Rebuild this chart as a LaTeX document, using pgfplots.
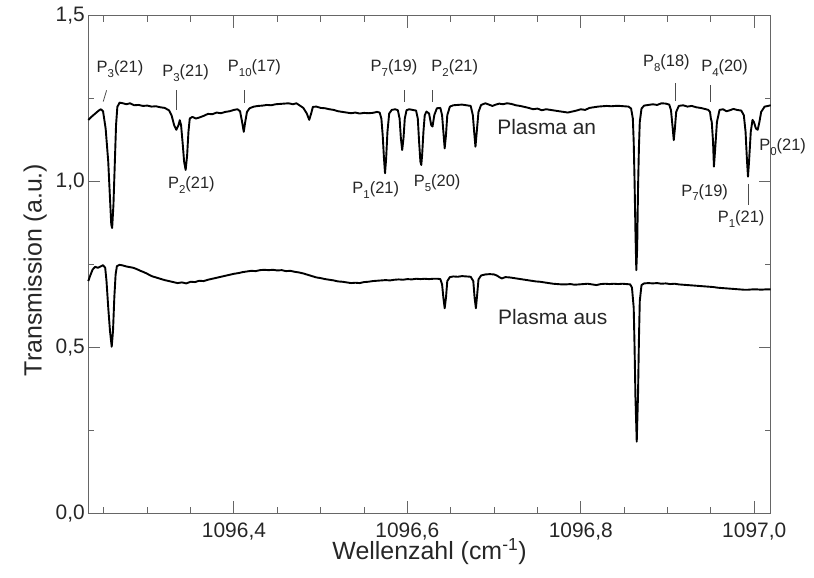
\documentclass[border=0pt]{standalone}
\usepackage{pgfplots}
\pgfplotsset{compat=1.18}
\usepackage{pgfplotstable}
\usepackage{fontspec}
\setmainfont{Liberation Sans}
\definecolor{axgray}{gray}{0.40}
\newcommand\sub[1]{\raisebox{-0.55ex}{\fontsize{11.5}{13}\selectfont #1}}

% x values: wavenumber minus 1096 cm^-1
\pgfplotstableread{
x y
0.232 1.186
0.236 1.196
0.240 1.205
0.244 1.214
0.2465 1.218
0.249 1.212
0.252 1.16
0.255 1.06
0.257 0.95
0.2585 0.87
0.2595 0.86
0.261 0.93
0.2625 1.05
0.264 1.17
0.2655 1.225
0.268 1.238
0.272 1.236
0.276 1.233
0.280 1.236
0.285 1.230
0.290 1.231
0.295 1.228
0.300 1.229
0.305 1.226
0.310 1.227
0.315 1.224
0.320 1.222
0.325 1.215
0.328 1.200
0.331 1.170
0.3335 1.156
0.336 1.170
0.3375 1.185
0.339 1.170
0.341 1.110
0.3425 1.060
0.3443 1.035
0.346 1.08
0.3475 1.15
0.349 1.19
0.352 1.195
0.356 1.190
0.360 1.193
0.365 1.198
0.370 1.204
0.375 1.203
0.380 1.208
0.385 1.206
0.390 1.210
0.395 1.212
0.400 1.216
0.404 1.218
0.407 1.212
0.409 1.185
0.4113 1.150
0.413 1.18
0.415 1.21
0.418 1.221
0.423 1.226
0.428 1.228
0.433 1.229
0.438 1.231
0.443 1.230
0.448 1.233
0.453 1.234
0.458 1.235
0.463 1.236
0.468 1.233
0.472 1.236
0.476 1.229
0.480 1.222
0.484 1.205
0.4868 1.186
0.489 1.205
0.491 1.225
0.495 1.226
0.500 1.222
0.505 1.221
0.510 1.218
0.515 1.216
0.520 1.212
0.525 1.210
0.530 1.208
0.535 1.206
0.540 1.208
0.545 1.205
0.550 1.207
0.555 1.206
0.560 1.207
0.565 1.210
0.568 1.208
0.570 1.19
0.5715 1.14
0.573 1.07
0.5742 1.025
0.5755 1.07
0.577 1.15
0.579 1.205
0.582 1.216
0.586 1.218
0.589 1.215
0.591 1.19
0.5925 1.13
0.594 1.095
0.5955 1.13
0.597 1.19
0.599 1.215
0.602 1.218
0.606 1.216
0.610 1.214
0.612 1.19
0.6135 1.12
0.615 1.06
0.616 1.05
0.617 1.08
0.6185 1.15
0.620 1.20
0.622 1.211
0.625 1.205
0.6275 1.170
0.629 1.166
0.631 1.20
0.634 1.221
0.638 1.222
0.640 1.200
0.6415 1.15
0.643 1.100
0.6445 1.14
0.646 1.20
0.649 1.226
0.653 1.230
0.658 1.231
0.663 1.232
0.668 1.230
0.673 1.228
0.6755 1.20
0.677 1.15
0.6785 1.105
0.680 1.15
0.682 1.21
0.685 1.231
0.690 1.236
0.694 1.232
0.698 1.228
0.702 1.232
0.706 1.235
0.710 1.233
0.715 1.236
0.720 1.234
0.725 1.230
0.730 1.228
0.735 1.225
0.740 1.222
0.745 1.218
0.750 1.220
0.755 1.215
0.760 1.218
0.765 1.216
0.770 1.214
0.775 1.212
0.780 1.210
0.785 1.208
0.790 1.211
0.795 1.214
0.800 1.218
0.805 1.216
0.810 1.222
0.815 1.224
0.820 1.226
0.825 1.227
0.830 1.228
0.835 1.227
0.840 1.228
0.845 1.228
0.850 1.227
0.855 1.226
0.858 1.220
0.860 1.19
0.861 1.12
0.862 1.00
0.863 0.85
0.864 0.733
0.865 0.80
0.866 0.98
0.867 1.10
0.868 1.18
0.870 1.220
0.873 1.229
0.878 1.231
0.883 1.233
0.888 1.231
0.893 1.236
0.898 1.235
0.902 1.232
0.904 1.215
0.906 1.16
0.9072 1.125
0.9085 1.16
0.910 1.21
0.913 1.228
0.918 1.230
0.923 1.226
0.928 1.228
0.933 1.224
0.938 1.222
0.943 1.219
0.947 1.216
0.949 1.21
0.950 1.19
0.951 1.18
0.9525 1.12
0.9535 1.045
0.955 1.10
0.957 1.18
0.960 1.216
0.964 1.218
0.968 1.212
0.972 1.215
0.976 1.219
0.980 1.216
0.985 1.214
0.988 1.20
0.990 1.15
0.9915 1.07
0.9928 1.015
0.994 1.06
0.996 1.15
0.998 1.186
0.9995 1.18
1.002 1.16
1.004 1.156
1.006 1.18
1.008 1.21
1.012 1.226
1.016 1.228
1.019 1.230
}\plasmaan

\pgfplotstableread{
x y
0.232 0.700
0.234 0.715
0.237 0.735
0.240 0.743
0.243 0.740
0.246 0.744
0.249 0.748
0.2515 0.740
0.253 0.70
0.255 0.62
0.257 0.55
0.259 0.502
0.2605 0.55
0.262 0.65
0.2635 0.72
0.265 0.745
0.268 0.749
0.272 0.747
0.276 0.744
0.280 0.742
0.284 0.740
0.288 0.736
0.292 0.731
0.296 0.727
0.300 0.722
0.305 0.715
0.310 0.711
0.315 0.707
0.320 0.703
0.325 0.700
0.330 0.697
0.335 0.694
0.340 0.696
0.345 0.693
0.350 0.698
0.355 0.697
0.360 0.701
0.365 0.700
0.370 0.704
0.375 0.707
0.380 0.710
0.385 0.713
0.390 0.716
0.395 0.719
0.400 0.722
0.405 0.724
0.410 0.727
0.415 0.729
0.420 0.731
0.425 0.730
0.430 0.733
0.435 0.734
0.440 0.733
0.445 0.734
0.450 0.732
0.455 0.733
0.460 0.730
0.465 0.731
0.470 0.728
0.475 0.726
0.480 0.723
0.485 0.719
0.490 0.715
0.495 0.711
0.500 0.709
0.505 0.706
0.510 0.704
0.515 0.702
0.520 0.699
0.525 0.698
0.530 0.696
0.535 0.694
0.540 0.695
0.545 0.694
0.550 0.697
0.555 0.698
0.560 0.700
0.565 0.701
0.570 0.702
0.575 0.703
0.580 0.702
0.585 0.704
0.590 0.705
0.595 0.704
0.600 0.706
0.605 0.705
0.610 0.707
0.615 0.706
0.620 0.707
0.625 0.706
0.630 0.707
0.635 0.707
0.638 0.706
0.640 0.69
0.6415 0.65
0.643 0.618
0.6445 0.65
0.646 0.70
0.649 0.712
0.653 0.714
0.658 0.713
0.663 0.715
0.668 0.714
0.673 0.713
0.676 0.700
0.6775 0.65
0.679 0.618
0.6805 0.66
0.682 0.705
0.685 0.717
0.690 0.720
0.695 0.721
0.700 0.720
0.703 0.717
0.706 0.712
0.709 0.708
0.713 0.712
0.718 0.711
0.723 0.709
0.728 0.707
0.733 0.705
0.738 0.703
0.743 0.701
0.748 0.699
0.753 0.698
0.758 0.696
0.763 0.694
0.768 0.692
0.773 0.691
0.778 0.690
0.783 0.690
0.788 0.691
0.793 0.689
0.798 0.690
0.803 0.691
0.808 0.692
0.813 0.690
0.818 0.688
0.823 0.691
0.828 0.692
0.833 0.691
0.838 0.692
0.843 0.691
0.848 0.692
0.853 0.691
0.857 0.690
0.859 0.68
0.861 0.62
0.862 0.50
0.863 0.35
0.8645 0.216
0.866 0.36
0.867 0.52
0.868 0.64
0.870 0.688
0.873 0.693
0.878 0.694
0.883 0.693
0.888 0.694
0.893 0.692
0.898 0.693
0.903 0.691
0.908 0.692
0.913 0.690
0.918 0.689
0.923 0.688
0.928 0.687
0.933 0.686
0.938 0.685
0.943 0.684
0.948 0.683
0.953 0.682
0.958 0.680
0.963 0.679
0.968 0.678
0.973 0.677
0.978 0.676
0.983 0.675
0.988 0.674
0.993 0.674
0.998 0.675
1.003 0.675
1.008 0.674
1.013 0.675
1.019 0.675
}\plasmaaus

\begin{document}
\begin{tikzpicture}
\begin{axis}[
  scale only axis,
  width=682.4bp, height=497.6bp,
  xmin=0.232, xmax=1.019, ymin=0, ymax=1.5,
  clip=false,
  axis line style={axgray, line width=1.2bp},
  every tick/.style={axgray, line width=1bp},
  tick align=inside,
  major tick length=12bp, minor tick length=6bp,
  xtick={0.4,0.6,0.8,1.0},
  xticklabels={{1096,4},{1096,6},{1096,8},{1097,0}},
  minor xtick={0.25,0.3,0.35,0.45,0.5,0.55,0.65,0.7,0.75,0.85,0.9,0.95},
  ytick={0,0.5,1,1.5},
  yticklabels={{0,0},{0,5},{1,0},{1,5}},
  minor ytick={0.25,0.75,1.25},
  tick label style={font=\fontsize{21}{25}\selectfont, text=black!85},
  xticklabel style={inner sep=0pt, yshift=-9bp},
  yticklabel style={xshift=0bp},
]
\addplot[black, line width=1.9bp, line join=round] table[x=x, y=y] {\plasmaan};
\addplot[black, line width=1.9bp, line join=round] table[x=x, y=y] {\plasmaaus};

% annotation marker lines
\addplot[black!70, line width=0.8bp] coordinates {(0.2492,1.241) (0.2531,1.275)};
\addplot[black!70, line width=0.8bp] coordinates {(0.3336,1.275) (0.3336,1.215)};
\addplot[black!70, line width=0.8bp] coordinates {(0.4121,1.275) (0.4121,1.237)};
\addplot[black!70, line width=0.8bp] coordinates {(0.5961,1.275) (0.5961,1.240)};
\addplot[black!70, line width=0.8bp] coordinates {(0.6286,1.275) (0.6286,1.240)};
\addplot[black!70, line width=0.8bp] coordinates {(0.9090,1.297) (0.9090,1.243)};
\addplot[black!70, line width=0.8bp] coordinates {(0.9497,1.291) (0.9497,1.240)};
\addplot[black!70, line width=0.8bp] coordinates {(0.9934,0.993) (0.9934,0.929)};

\begin{scope}[every node/.style={font=\fontsize{16.5}{19}\selectfont, text=black!85, inner sep=0pt}]
\node at (axis cs:0.2685,1.339) {P\sub{3}(21)};
\node at (axis cs:0.3443,1.327) {P\sub{3}(21)};
\node at (axis cs:0.4236,1.342) {P\sub{10}(17)};
\node at (axis cs:0.5845,1.342) {P\sub{7}(19)};
\node at (axis cs:0.6546,1.342) {P\sub{2}(21)};
\node at (axis cs:0.8987,1.358) {P\sub{8}(18)};
\node at (axis cs:0.9658,1.342) {P\sub{4}(20)};
\node at (axis cs:0.3509,0.990) {P\sub{2}(21)};
\node at (axis cs:0.5635,0.975) {P\sub{1}(21)};
\node at (axis cs:0.6343,0.996) {P\sub{5}(20)};
\node at (axis cs:0.9428,0.967) {P\sub{7}(19)};
\node at (axis cs:0.9849,0.886) {P\sub{1}(21)};
\node at (axis cs:1.0328,1.105) {P\sub{0}(21)};
\end{scope}
\node[font=\fontsize{21}{25}\selectfont, text=black!85] at (axis cs:0.7607,1.164) {Plasma an};
\node[font=\fontsize{21}{25}\selectfont, text=black!85] at (axis cs:0.7676,0.591) {Plasma aus};

\node[rotate=90, anchor=base, font=\fontsize{25}{30}\selectfont, text=black!85, inner sep=0pt]
  at ([xshift=-46.6bp]axis description cs:0,0.489) {Transmission (a.u.)};
\node[anchor=base, font=\fontsize{25}{30}\selectfont, text=black!85, inner sep=0pt]
  at ([yshift=-46bp]axis description cs:0.5,0) {Wellenzahl (cm\textsuperscript{-1})};

\coordinate (sw) at (rel axis cs:0,0);
\coordinate (ne) at (rel axis cs:1,1);
\end{axis}
\pgfresetboundingbox
\path[use as bounding box] ([shift={(-88.3bp,-64.7bp)}]sw) rectangle ([shift={(43.3bp,15.7bp)}]ne);
\end{tikzpicture}
\end{document}
